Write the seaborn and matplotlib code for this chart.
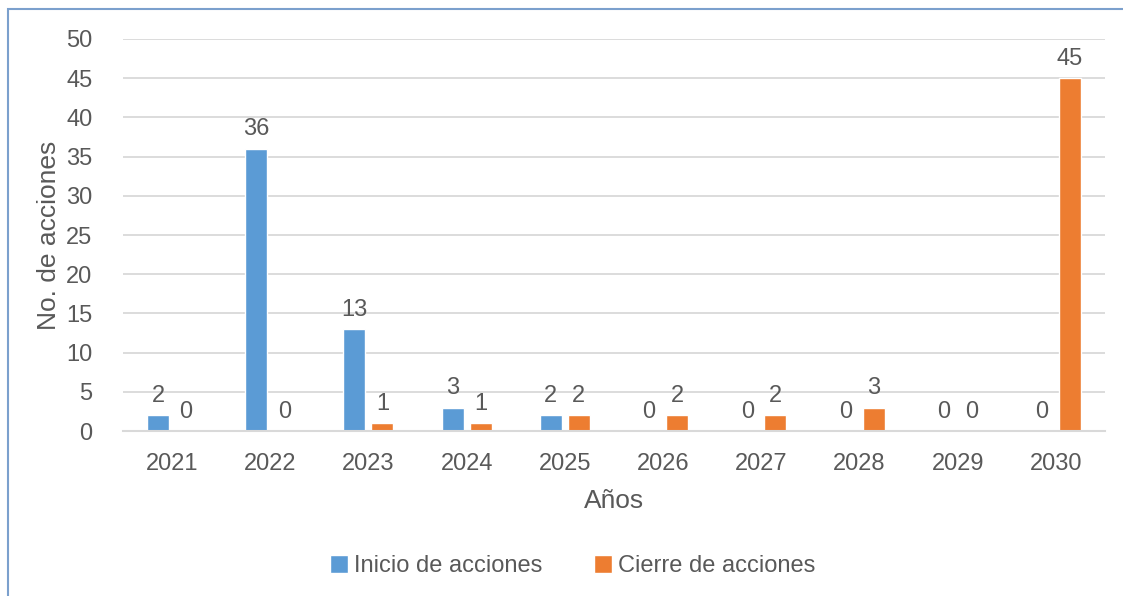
import pandas as pd
import matplotlib.pyplot as plt
import seaborn as sns
from matplotlib.patches import Rectangle
from matplotlib import font_manager

years = ['2021', '2022', '2023', '2024', '2025', '2026', '2027', '2028', '2029', '2030']
inicio = [2, 36, 13, 3, 2, 0, 0, 0, 0, 0]
cierre = [0, 0, 1, 1, 2, 2, 2, 3, 0, 45]
series_names = ['Inicio de acciones', 'Cierre de acciones']

df = pd.DataFrame({
    'Año': years * 2,
    'Valor': inicio + cierre,
    'Serie': [series_names[0]] * len(years) + [series_names[1]] * len(years),
})

sns.set_style('white')
names = {f.name for f in font_manager.fontManager.ttflist}
fam = 'Liberation Sans Narrow' if 'Liberation Sans Narrow' in names else 'Liberation Sans'
plt.rcParams['font.family'] = [fam, 'DejaVu Sans']

txt = '#595959'
fig = plt.figure(figsize=(11.23, 5.96), dpi=100)
ax = fig.add_axes([0.1095, 0.2768, 0.8745, 0.6578])

sns.barplot(data=df, x='Año', y='Valor', hue='Serie', palette=['#5B9BD5', '#ED7D31'],
            width=0.57, gap=0.214, ax=ax, saturation=1)

for c in ax.containers:
    ax.bar_label(c, padding=6, fontsize=17, color=txt)

ax.set_ylim(0, 50)
ax.set_yticks(range(0, 51, 5))
ax.set_xlim(-0.5, 9.5)
ax.grid(axis='y', color='#D9D9D9', linewidth=1.3)
ax.set_axisbelow(True)
for s in ['top', 'right', 'left']:
    ax.spines[s].set_visible(False)
ax.spines['bottom'].set_color('#D9D9D9')
ax.spines['bottom'].set_linewidth(1.5)
ax.tick_params(axis='both', length=0, labelsize=17, labelcolor=txt)
ax.tick_params(axis='y', pad=22)
ax.tick_params(axis='x', pad=16)
ax.set_xlabel('Años', fontsize=19, color=txt, labelpad=10)
ax.set_ylabel('No. de acciones', fontsize=19, color=txt, labelpad=4)

handles, labels = ax.get_legend_handles_labels()
ax.get_legend().remove()
fig.legend(handles, labels, loc='center', bbox_to_anchor=(0.51, 0.05), ncol=2, frameon=False,
           fontsize=17, labelcolor=txt, handlelength=0.75, handleheight=0.75,
           handletextpad=0.25, columnspacing=2.2)

fig.patches.append(Rectangle((8 / 1123, -0.1), 1.2, 1 - 9 / 596 + 0.1, transform=fig.transFigure,
                             fill=False, edgecolor='#7BA0CD', linewidth=1.5))

fig.savefig('out.png', dpi=100)
